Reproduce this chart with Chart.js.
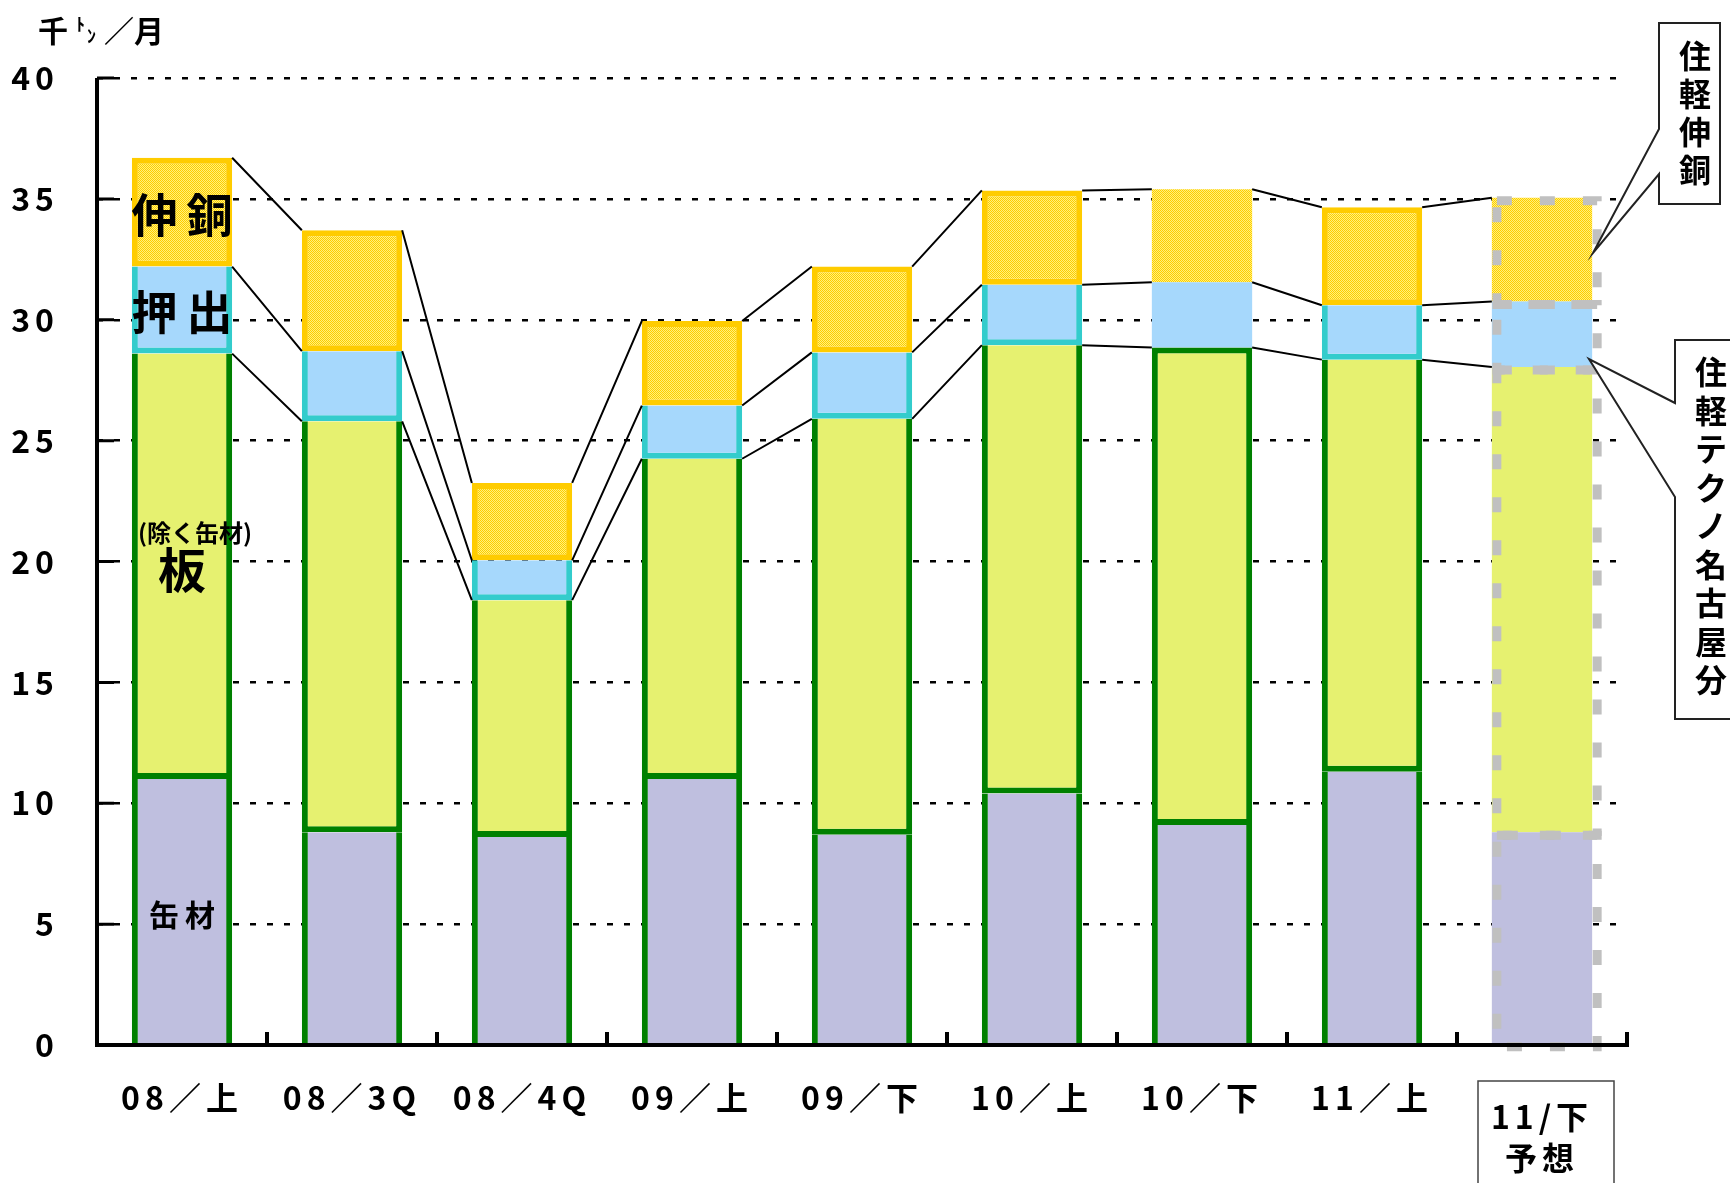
<!DOCTYPE html>
<html>
<head>
<meta charset="utf-8">
<script src="https://cdn.jsdelivr.net/npm/chart.js@4.4.1/dist/chart.umd.min.js"></script>
<style>
    html, body { margin: 0; padding: 0; background: #fff; }
    #chart { display: block; }
</style>
</head>
<body>
<canvas id="chart" width="1730" height="1183"></canvas>
<script>
const categories = ["08／上", "08／3Q", "08／4Q", "09／上", "09／下", "10／上", "10／下", "11／上", ["11/下", "予想"]];
const canValues = [11.0, 8.8, 8.6, 11.0, 8.7, 10.4, 9.1, 11.3, 8.8];
const plateValues = [17.6, 17.0, 9.8, 13.25, 17.2, 18.55, 19.75, 17.05, 19.25];
const extrusionValues = [3.6, 2.9, 1.65, 2.2, 2.75, 2.5, 2.7, 2.25, 2.7];
const copperValues = [4.5, 5.0, 3.2, 3.5, 3.55, 3.9, 3.85, 4.05, 4.3];
const yMin = 0;
const yMax = 40;
const yStep = 5;

const FONT = '"Noto Sans CJK JP", "Noto Sans", sans-serif';
const FORECAST = 8;   // 11/下 予想: dashed grey outline
const PLAIN_TOP = 6;  // 10/下: no border on 押出 / 伸銅

const canvas = document.getElementById("chart");
const ctx0 = canvas.getContext("2d");

// fine gold dot texture for 伸銅
const copperFill = (() => {
    const c = document.createElement("canvas");
    c.width = 2;
    c.height = 2;
    const g = c.getContext("2d");
    g.fillStyle = "#FFF27A";
    g.fillRect(0, 0, 2, 2);
    g.fillStyle = "#FFCC00";
    g.fillRect(0, 0, 1, 1);
    g.fillRect(1, 1, 1, 1);
    return ctx0.createPattern(c, "repeat");
})();

// per side border widths; hidden sides are covered by the neighbour's edge
const sides = (top, bottom, skip = []) => (c) => {
    if (c.dataIndex === FORECAST || skip.includes(c.dataIndex)) {
        return 0;
    }
    const t = typeof top === "function" ? top(c) : top;
    return { top: t, bottom, left: 6, right: 6 };
};

const text = (ctx, str, x, y, size, spacing = 0) => {
    ctx.save();
    ctx.font = `bold ${size}px ${FONT}`;
    ctx.letterSpacing = `${spacing}px`;
    ctx.textAlign = "center";
    ctx.textBaseline = "middle";
    ctx.fillStyle = "#000";
    ctx.fillText(str, x + spacing / 2, y);
    ctx.restore();
};

const callout = (ctx, left, top, right, bottom, openA, openB, tip) => {
    ctx.save();
    ctx.beginPath();
    ctx.moveTo(left, top);
    ctx.lineTo(right, top);
    ctx.lineTo(right, bottom);
    ctx.lineTo(left, bottom);
    ctx.lineTo(left, openB);
    ctx.lineTo(tip[0], tip[1]);
    ctx.lineTo(left, openA);
    ctx.closePath();
    ctx.fillStyle = "#fff";
    ctx.fill();
    ctx.lineWidth = 2;
    ctx.strokeStyle = "#222";
    ctx.stroke();
    ctx.restore();
};

const overlay = {
    id: "overlay",
    beforeDraw(chart) {
        chart.ctx.letterSpacing = "5px";
    },
    beforeDatasetsDraw(chart) {
        chart.ctx.letterSpacing = "0px";
    },
    afterDatasetsDraw(chart) {
        const { ctx, chartArea: area, scales: { x, y } } = chart;

        // series lines between stacked tops
        ctx.save();
        ctx.strokeStyle = "#000";
        ctx.lineWidth = 2;
        ctx.beginPath();
        [1, 2, 3].forEach((d) => {
            const bars = chart.getDatasetMeta(d).data;
            for (let i = 0; i < bars.length - 1; i++) {
                const a = bars[i];
                const b = bars[i + 1];
                ctx.moveTo(a.x + a.width / 2, a.y);
                ctx.lineTo(b.x - b.width / 2, b.y);
            }
        });
        ctx.stroke();
        ctx.restore();

        // forecast bar outline
        ctx.save();
        ctx.strokeStyle = "#C0C0C0";
        ctx.lineWidth = 9;
        ctx.setLineDash([15, 28]);
        chart.data.datasets.forEach((ds, d) => {
            const bar = chart.getDatasetMeta(d).data[FORECAST];
            const left = bar.x - bar.width / 2;
            ctx.strokeRect(left + 5, bar.y + 3, bar.width, bar.base - bar.y);
        });
        ctx.restore();

        // axes with inner tick marks
        ctx.save();
        ctx.strokeStyle = "#000";
        ctx.lineCap = "butt";
        ctx.lineWidth = 4;
        ctx.beginPath();
        ctx.moveTo(area.left, area.top);
        ctx.lineTo(area.left, area.bottom + 2);
        ctx.moveTo(area.left - 2, area.bottom);
        ctx.lineTo(area.right + 2, area.bottom);
        ctx.stroke();
        ctx.lineWidth = 3;
        ctx.beginPath();
        y.ticks.forEach((t) => {
            const py = y.getPixelForValue(t.value);
            ctx.moveTo(area.left, py);
            ctx.lineTo(area.left + 17, py);
        });
        ctx.stroke();
        ctx.lineWidth = 4;
        ctx.beginPath();
        for (let i = 1; i <= categories.length; i++) {
            const px = i < categories.length
                ? (x.getPixelForValue(i - 1) + x.getPixelForValue(i)) / 2
                : area.right;
            ctx.moveTo(px, area.bottom);
            ctx.lineTo(px, area.bottom - 13);
        }
        ctx.stroke();
        ctx.restore();
    },
    afterDraw(chart) {
        const { ctx, scales: { x } } = chart;
        const cx = x.getPixelForValue(0);

        // unit
        ctx.save();
        ctx.fillStyle = "#000";
        ctx.textBaseline = "alphabetic";
        ctx.font = `bold 30px ${FONT}`;
        ctx.fillText("千", 38, 42);
        ctx.font = `bold 18px ${FONT}`;
        ctx.fillText("ﾄ", 76, 31);
        ctx.fillText("ﾝ", 87, 43);
        ctx.font = `bold 30px ${FONT}`;
        ctx.fillText("／月", 104, 42);
        ctx.restore();

        // labels inside first bar
        text(ctx, "伸銅", cx, 215, 46, 9);
        text(ctx, "押出", cx, 312, 46, 9);
        text(ctx, "(除く缶材)", cx + 13, 533, 24);
        text(ctx, "板", cx, 570, 48);
        text(ctx, "缶材", cx, 915, 30, 6);

        // forecast category box
        const fx = x.getPixelForValue(FORECAST);
        ctx.save();
        ctx.strokeStyle = "#444";
        ctx.lineWidth = 1.5;
        ctx.strokeRect(fx - 64, 1081, 136, 110);
        ctx.restore();

        // callouts
        callout(ctx, 1659, 23, 1720, 204, 129, 174, [1593, 253]);
        "住軽伸銅".split("").forEach((ch, i) => text(ctx, ch, 1695, 56 + i * 38, 32));
        callout(ctx, 1675, 340, 1740, 719, 403, 497, [1589, 359]);
        "住軽テクノ名古屋分".split("").forEach((ch, i) => text(ctx, ch, 1711, 372 + i * 38.5, 32));
    }
};

new Chart(canvas, {
    type: "bar",
    data: {
        labels: categories,
        datasets: [
            {
                label: "缶材",
                data: canValues,
                backgroundColor: "#BFBFDF",
                borderColor: "#008000",
                borderWidth: sides(0, 0),
                borderSkipped: false
            },
            {
                label: "板",
                data: plateValues,
                backgroundColor: "#E6F170",
                borderColor: "#008000",
                borderWidth: sides((c) => (c.dataIndex === PLAIN_TOP ? 6 : 0), 6),
                borderSkipped: false
            },
            {
                label: "押出",
                data: extrusionValues,
                backgroundColor: "#A6D8FC",
                borderColor: "#33CCCC",
                borderWidth: sides(0, 6, [PLAIN_TOP]),
                borderSkipped: false
            },
            {
                label: "伸銅",
                data: copperValues,
                backgroundColor: copperFill,
                borderColor: "#FFCC00",
                borderWidth: sides(6, 6, [PLAIN_TOP]),
                borderSkipped: false
            }
        ]
    },
    options: {
        responsive: false,
        animation: false,
        devicePixelRatio: 1,
        layout: {
            padding: { top: 78, right: 103, left: 0, bottom: 0 }
        },
        datasets: {
            bar: { barPercentage: 0.59, categoryPercentage: 1 }
        },
        plugins: {
            legend: { display: false },
            tooltip: { enabled: false }
        },
        scales: {
            x: {
                stacked: true,
                grid: { display: false, drawTicks: false },
                border: { display: false },
                ticks: {
                    padding: 51.5,
                    color: "#000",
                    maxRotation: 0,
                    autoSkip: false,
                    font: (c) => ({
                        family: FONT,
                        weight: "bold",
                        size: 32,
                        lineHeight: c.index === FORECAST ? "41px" : "3px"
                    })
                },
                afterFit: (s) => {
                    s.height = 138;
                }
            },
            y: {
                stacked: true,
                min: yMin,
                max: yMax,
                ticks: {
                    stepSize: yStep,
                    padding: 38,
                    color: "#000",
                    font: { family: FONT, weight: "bold", size: 32 }
                },
                grid: {
                    drawTicks: false,
                    lineWidth: 2.5,
                    color: (c) => (c.tick && c.tick.value === yMin ? "rgba(0,0,0,0)" : "#000")
                },
                border: { display: false, dash: [6, 11] },
                afterFit: (s) => {
                    s.width = 97;
                }
            }
        }
    },
    plugins: [overlay]
});
</script>
</body>
</html>
